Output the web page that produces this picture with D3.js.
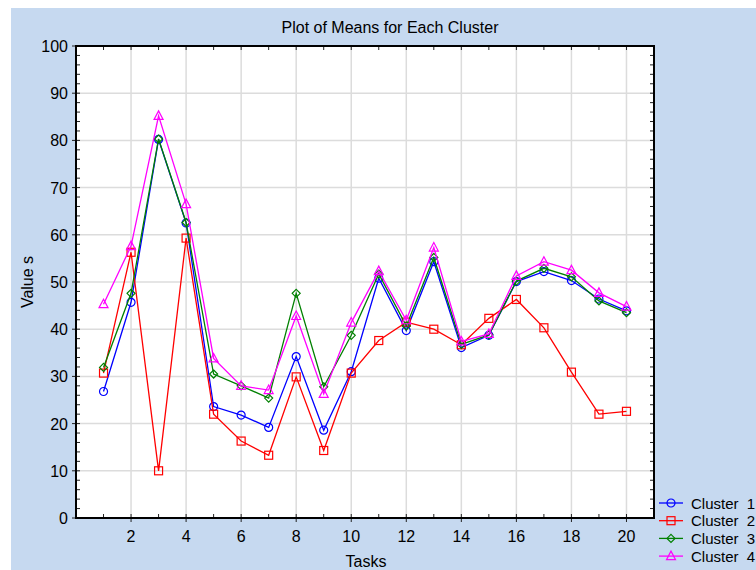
<!DOCTYPE html>
<html>
<head>
<meta charset="utf-8">
<script src="https://cdn.jsdelivr.net/npm/d3@7"></script>
<style>
  body { margin: 0; background: white; }
  svg { font-family: Arial, "Liberation Sans", sans-serif; }
</style>
</head>
<body>
<div id="viz"></div>
<script>
// chart values
var tasks = d3.range(1, 21),
    seriesNames = ["Cluster  1", "Cluster  2", "Cluster  3", "Cluster  4"],
    cluster1 = [26.8, 45.7, 80.2, 62.5, 23.6, 21.8, 19.2, 34.2, 18.6, 31.0, 50.8, 39.7, 54.3, 36.1, 38.7, 50.1, 52.2, 50.3, 46.4, 43.9],
    cluster2 = [30.7, 56.3, 10.0, 59.3, 22.0, 16.3, 13.3, 29.9, 14.3, 30.7, 37.6, 41.5, 40.0, 36.7, 42.3, 46.3, 40.3, 30.9, 22.0, 22.6],
    cluster3 = [31.9, 47.6, 80.3, 62.6, 30.5, 28.0, 25.4, 47.6, 27.8, 38.7, 51.7, 40.7, 55.2, 36.8, 38.8, 50.2, 52.9, 51.1, 46.0, 43.5],
    cluster4 = [45.3, 57.6, 85.2, 66.5, 33.8, 28.0, 27.1, 42.8, 26.3, 41.4, 52.3, 41.9, 57.3, 37.4, 39.0, 51.3, 54.3, 52.5, 47.7, 44.8],
    xTicks = [2, 4, 6, 8, 10, 12, 14, 16, 18, 20],
    yTicks = [0, 10, 20, 30, 40, 50, 60, 70, 80, 90, 100];

var W = 756, H = 570,
    margin = { top: 46, right: 102, bottom: 52, left: 76 },
    width = W - margin.left - margin.right,
    height = H - margin.top - margin.bottom;

var colors = ["#0000ff", "#ff0000", "#008000", "#ff00ff"],
    shapes = ["circle", "square", "diamond", "triangle"];

var allSeries = [cluster1, cluster2, cluster3, cluster4];

var svg = d3.select('#viz').append('svg')
    .attr('width', W)
    .attr('height', H);

// blue backdrop
svg.append('rect')
    .attr('x', 11).attr('y', 8)
    .attr('width', W).attr('height', H)
    .attr('fill', '#c6d9f0');

var xScale = d3.scaleLinear().domain([0, 21]).range([0, width]);
var yScale = d3.scaleLinear().domain([0, 100]).range([height, 0]);

var g = svg.append('g')
    .attr('transform', 'translate(' + margin.left + ',' + margin.top + ')');

g.append('rect')
    .attr('width', width).attr('height', height)
    .attr('fill', 'white');

// grid
g.append('g').selectAll('line').data(xTicks)
    .enter().append('line')
    .attr('x1', function(d) { return xScale(d); })
    .attr('x2', function(d) { return xScale(d); })
    .attr('y1', 0).attr('y2', height)
    .attr('stroke', '#dcdcdc').attr('stroke-width', 1.5);

g.append('g').selectAll('line').data(yTicks.slice(1, -1))
    .enter().append('line')
    .attr('y1', function(d) { return yScale(d); })
    .attr('y2', function(d) { return yScale(d); })
    .attr('x1', 0).attr('x2', width)
    .attr('stroke', '#dcdcdc').attr('stroke-width', 1.5);

// inward ticks on all four sides
var oddTicks = d3.range(1, 22, 2);
var minorY = d3.range(0, 101, 2);

function tickLines(sel, data, horiz, pos, len) {
    sel.append('g').selectAll('line').data(data)
        .enter().append('line')
        .attr('x1', function(d) { return horiz ? xScale(d) : pos; })
        .attr('x2', function(d) { return horiz ? xScale(d) : pos + len; })
        .attr('y1', function(d) { return horiz ? pos : yScale(d); })
        .attr('y2', function(d) { return horiz ? pos + len : yScale(d); })
        .attr('stroke', '#222').attr('stroke-width', 1);
}
tickLines(g, oddTicks.concat(xTicks), true, height, -4);
tickLines(g, oddTicks.concat(xTicks), true, 0, 4);
tickLines(g, minorY, false, 0, 4);
tickLines(g, minorY, false, width, -4);
// major ticks stick out a little
tickLines(g, xTicks, true, height, 4);
tickLines(g, yTicks, false, 0, -4);

g.append('rect')
    .attr('width', width).attr('height', height)
    .attr('fill', 'none')
    .attr('stroke', 'black').attr('stroke-width', 2);

// tick labels
g.append('g').selectAll('text').data(xTicks)
    .enter().append('text')
    .attr('x', function(d) { return xScale(d); })
    .attr('y', height + 24)
    .attr('text-anchor', 'middle')
    .style('font-size', '16px')
    .text(function(d) { return d; });

g.append('g').selectAll('text').data(yTicks)
    .enter().append('text')
    .attr('x', -8)
    .attr('y', function(d) { return yScale(d) + 6; })
    .attr('text-anchor', 'end')
    .style('font-size', '16px')
    .text(function(d) { return d; });

// titles
svg.append('text')
    .attr('x', 390).attr('y', 33)
    .attr('text-anchor', 'middle')
    .style('font-size', '16px')
    .text('Plot of Means for Each Cluster');

svg.append('text')
    .attr('x', 366).attr('y', 567)
    .attr('text-anchor', 'middle')
    .style('font-size', '16px')
    .text('Tasks');

svg.append('text')
    .attr('transform', 'translate(33,' + (margin.top + height / 2) + ') rotate(-90)')
    .attr('text-anchor', 'middle')
    .style('font-size', '16px')
    .text('Value s');

function marker(sel, shape, color) {
    if (shape === 'circle') {
        sel.append('circle').attr('r', 4);
    } else if (shape === 'square') {
        sel.append('rect').attr('x', -4).attr('y', -4).attr('width', 8).attr('height', 8);
    } else if (shape === 'diamond') {
        sel.append('path').attr('d', 'M0,-4L4,0L0,4L-4,0Z');
    } else {
        sel.append('path').attr('d', 'M0,-5L4.5,3.5L-4.5,3.5Z');
    }
    sel.selectAll('*').attr('fill', 'none').attr('stroke', color).attr('stroke-width', 1.2);
}

var line = d3.line()
    .x(function(d, i) { return xScale(tasks[i]); })
    .y(function(d) { return yScale(d); });

allSeries.forEach(function(vals, k) {
    var sg = g.append('g');
    sg.append('path')
        .datum(vals)
        .attr('d', line)
        .attr('fill', 'none')
        .attr('stroke', colors[k])
        .attr('stroke-width', 1.3);
    sg.selectAll('g.pt').data(vals)
        .enter().append('g')
        .attr('class', 'pt')
        .attr('transform', function(d, i) {
            return 'translate(' + xScale(tasks[i]) + ',' + yScale(d) + ')';
        })
        .each(function() { marker(d3.select(this), shapes[k], colors[k]); });
});

// legend
var leg = svg.append('g').attr('transform', 'translate(659,503)');
seriesNames.forEach(function(name, k) {
    var row = leg.append('g').attr('transform', 'translate(0,' + (k * 17.7) + ')');
    row.append('line')
        .attr('x1', 0).attr('x2', 24)
        .attr('stroke', colors[k]).attr('stroke-width', 1.3);
    var m = row.append('g').attr('transform', 'translate(12,0)');
    marker(m, shapes[k], colors[k]);
    row.append('text')
        .attr('x', 32).attr('y', 5.5)
        .style('font-size', '15px')
        .style('white-space', 'pre')
        .text(name);
});
</script>
</body>
</html>
